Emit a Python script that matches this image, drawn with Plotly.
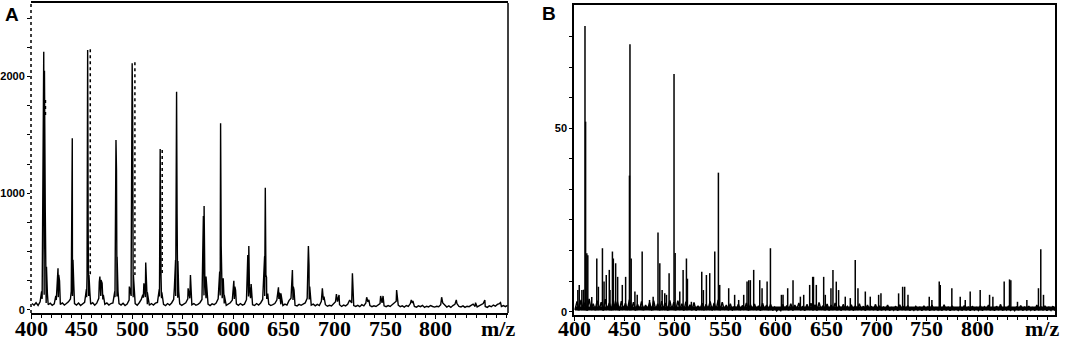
import plotly.graph_objects as go

W, H = 1065, 344

# ---------------- Panel A (profile spectrum) ----------------
a_base_start = 401
a_base_step = 2
a_baseline = [
    55, 40, 62, 38, 70, 95, 130, 60, 45, 58, 40, 52, 85, 110, 48, 60, 42, 55, 70, 95,
    120, 55, 42, 60, 38, 50, 65, 110, 120, 50, 62, 40, 58, 100, 120, 90, 48, 60, 42, 55,
    60, 110, 115, 55, 42, 58, 38, 50, 85, 120, 110, 55, 40, 62, 90, 105, 110, 50, 40, 55,
    42, 58, 65, 115, 100, 48, 38, 55, 42, 60, 90, 120, 105, 52, 40, 48, 62, 95, 100, 45,
    55, 40, 48, 62, 90, 125, 100, 50, 38, 52, 45, 60, 95, 125, 100, 55, 40, 50, 62, 85,
    95, 52, 40, 55, 42, 50, 88, 115, 100, 45, 38, 55, 42, 60, 90, 120, 95, 50, 38, 45,
    55, 85, 95, 48, 38, 50, 42, 80, 100, 85, 40, 35, 48, 40, 52, 60, 100, 90, 42, 50,
    35, 48, 38, 75, 85, 45, 32, 40, 35, 50, 70, 72, 45, 30, 42, 35, 48, 85, 60, 38,
    30, 40, 28, 45, 35, 60, 70, 38, 28, 36, 30, 42, 55, 60, 35, 28, 38, 30, 45, 60,
    75, 42, 28, 35, 25, 38, 30, 55, 60, 30, 24, 35, 28, 40, 22, 32, 26, 38, 30, 25,
    32, 28, 45, 60, 42, 25, 35, 22, 38, 48, 55, 30, 26, 35, 22, 32, 28, 40, 50, 30,
    26, 38, 45, 55, 30, 22, 35, 28, 42, 32, 48, 55, 30, 38, 28, 40,
]
a_peak_mz = [
    409.5, 410.5, 412.6, 413.3, 414.1, 415.3, 416.2,
    424.5, 426.2, 426.7, 427.4, 428.2,
    439.8, 440.8, 441.5, 442.3,
    454.8, 455.4, 456.0, 456.5, 457.3, 458.2,
    467.5, 468.1, 469.2, 470.3, 471.5,
    482.8, 484.0, 484.5, 485.1, 486.0,
    497.2, 499.0, 500.0, 500.5, 501.2,
    510.5, 511.6, 513.4, 514.0, 515.0,
    526.8, 527.7, 528.5, 529.3,
    541.7, 542.9, 543.9, 544.4, 545.2, 546.0,
    555.3, 557.6, 558.4,
    569.6, 570.4, 571.1, 571.8, 573.0, 574.0,
    586.5, 587.4, 588.0, 588.6, 590.0, 591.0,
    600.5, 601.5, 602.2,
    613.8, 614.3, 615.3, 615.9, 617.6, 618.5,
    630.2, 630.9, 631.6, 632.2, 632.8, 634.0,
    644.6, 645.5, 647.0,
    657.6, 658.4, 659.3, 660.0,
    673.5, 674.2, 674.8, 675.5,
    688.0, 689.6, 701.9, 704.5, 717.7, 718.3, 731.8, 734.0,
    745.6, 748.0, 761.4, 762.0, 775.9, 777.5, 805.9, 820.4, 839.4, 848.6, 864.1,
]
a_peak_int = [
    110, 160, 2214, 2050, 857, 371, 140,
    120, 330, 357, 300, 250,
    160, 1471, 430, 214,
    180, 300, 2229, 686, 300, 150,
    240, 286, 257, 229, 130,
    160, 1457, 1200, 457, 160,
    200, 314, 2114, 1650, 300,
    130, 229, 406, 271, 150,
    180, 1380, 300, 150,
    186, 428, 1871, 830, 420, 160,
    186, 300, 150,
    300, 805, 891, 290, 286, 130,
    330, 1600, 550, 371, 271, 130,
    251, 200, 171,
    300, 471, 548, 200, 223, 130,
    300, 457, 1048, 300, 280, 140,
    194, 150, 143,
    250, 343, 200, 171,
    400, 548, 380, 200,
    186, 114, 137, 129, 314, 120, 109, 86,
    120, 120, 171, 90, 86, 77, 109, 86, 63, 86, 63,
]
# dotted vertical traces beside some peaks
a_dot_mz = [414.3, 458.6, 502.7, 529.7]
a_dot_top = [1800, 2234, 2123, 1371]
a_dot_bottom = [1650, 300, 300, 300]

# ---------------- Panel B (centroid spectrum) ----------------
b_stick_mz = [
    403.8, 405.2, 407.8, 409.5, 410.9, 411.5, 412.7, 413.7, 417.6, 422.6, 424.2,
    428.2, 429.8, 432.0, 435.0, 435.7, 438.1, 439.0, 441.3, 443.3, 447.9, 451.2,
    455.0, 455.5, 456.7, 460.4, 462.7, 467.6, 474.9, 478.5, 483.3, 485.1, 487.4,
    490.0, 491.7, 494.3, 499.2, 500.3, 504.9, 508.2, 511.5, 512.5, 516.4, 526.7,
    528.3, 531.3, 534.6, 539.6, 543.2, 544.5, 553.4, 559.3, 563.3, 568.3, 571.6,
    573.3, 574.9, 578.2, 584.2, 586.5, 591.5, 594.8, 605.7, 607.3, 611.9, 617.2,
    624.5, 627.8, 633.7, 636.7, 637.5, 640.3, 647.6, 649.2, 654.8, 656.8, 660.1,
    662.4, 669.0, 674.0, 678.9, 681.6, 688.9, 693.8, 702.1, 704.4, 721.9, 725.9,
    727.9, 731.2, 752.3, 754.9, 762.2, 763.2, 774.7, 783.0, 788.0, 792.9, 802.8,
    812.1, 815.4, 826.6, 831.9, 833.2, 839.8, 849.1, 860.6, 862.9, 865.6,
]
b_stick_int = [
    5.9, 7.3, 5.9, 6.0, 77.9, 51.8, 15.9, 15.4, 4.0, 14.5, 6.8,
    17.3, 8.2, 10.0, 11.4, 5.9, 16.4, 14.5, 13.2, 9.5, 7.3, 9.5,
    37.1, 72.9, 14.5, 5.5, 4.6, 16.4, 3.2, 4.1, 21.6, 13.2, 5.9,
    5.0, 4.6, 10.5, 64.8, 16.0, 5.5, 11.4, 14.5, 9.0, 2.7, 10.9,
    5.9, 10.0, 10.5, 16.4, 37.9, 7.3, 6.4, 4.6, 3.2, 4.6, 8.2,
    8.6, 8.6, 11.4, 8.6, 6.4, 8.2, 17.3, 4.6, 4.6, 6.4, 8.6,
    4.1, 4.6, 7.3, 9.5, 9.5, 7.3, 9.5, 4.6, 6.4, 11.4, 8.2,
    5.9, 4.1, 3.7, 14.1, 6.4, 5.5, 4.1, 4.6, 5.0, 5.0, 6.8,
    6.8, 4.6, 4.1, 3.2, 8.2, 7.3, 6.4, 4.1, 3.2, 5.5, 5.9,
    4.6, 4.1, 8.2, 8.8, 8.6, 2.7, 3.2, 6.4, 17.0, 4.6,
]
b_noise_start = 401
b_noise_step = 2
b_noise = [
    0.5, 2.8, 0.4, 3.2, 0.6, 2.5, 0.3, 3.5, 0.5, 2.2, 0.4, 3.0, 0.6, 2.6, 0.3, 3.4, 0.5, 2.4, 0.4, 3.1, 0.5, 2.7, 0.3, 2.9, 0.6,
    2.3, 0.4, 3.3, 0.5, 2.6, 0.3, 2.0, 0.5, 2.8, 0.4, 1.8, 0.6, 2.5, 0.3, 3.0, 0.5, 2.2, 0.4, 2.9, 0.6, 2.4, 0.3, 3.1, 0.5, 2.6,
    0.4, 3.0, 0.5, 2.2, 0.3, 2.7, 0.6, 1.9, 0.4, 2.5, 0.3, 1.6, 0.5, 2.3, 0.4, 2.0, 0.6, 2.8, 0.3, 2.4, 0.5, 3.2, 0.4, 2.6, 0.5,
    1.8, 0.4, 2.2, 0.3, 1.5, 0.5, 2.0, 0.4, 1.7, 0.6, 2.4, 0.3, 1.9, 0.5, 2.1, 0.4, 1.6, 0.3, 2.3, 0.5, 1.8, 0.4, 2.0, 0.3, 1.2,
    0.2, 0.9, 0.3, 2.0, 0.5, 1.7, 0.4, 2.2, 0.3, 1.8, 0.6, 2.4, 0.4, 1.5, 0.3, 2.0, 0.5, 2.3, 0.4, 1.9, 0.3, 2.5, 0.5, 1.7, 0.4,
    2.1, 0.3, 1.8, 0.5, 2.4, 0.4, 1.6, 0.3, 2.0, 0.5, 1.4, 0.4, 1.9, 0.3, 1.6, 0.5, 2.2, 0.4, 1.5, 0.3, 1.8, 0.5, 1.3, 0.4, 2.0,
    0.3, 1.6, 0.4, 1.2, 0.5, 1.8, 0.3, 1.1, 0.4, 1.5, 0.3, 1.9, 0.5, 1.3, 0.4, 1.7, 0.3, 1.0, 0.4, 1.4, 0.5, 1.2, 0.3, 1.6, 0.4,
    1.3, 0.3, 1.8, 0.4, 1.1, 0.5, 1.5, 0.3, 1.9, 0.4, 1.2, 0.3, 1.6, 0.5, 1.0, 0.4, 1.4, 0.3, 1.7, 0.4, 1.2, 0.3, 1.5, 0.5, 1.1,
    0.4, 1.6, 0.3, 1.3, 0.5, 1.8, 0.4, 1.1, 0.3, 1.5, 0.4, 2.0, 0.3, 1.2, 0.5, 1.6, 0.4, 1.0, 0.3, 1.4, 0.4, 1.7, 0.3, 1.2, 0.5,
    1.5, 0.4, 1.1, 0.3, 1.8, 0.4, 1.3, 0.5, 1.6, 0.3, 1.2, 0.4, 1.5, 0.3,
]
b_floor_level = 0.9
b_stick_floor = 0.4

x_tick_vals = [400, 450, 500, 550, 600, 650, 700, 750, 800]
x_tick_text = ["400", "450", "500", "550", "600", "650", "700", "750", "800"]
a_y_ticks = [0, 250, 500, 750, 1000, 1250, 1500, 1750, 2000, 2250, 2500]
a_y_labels = ["0", "", "", "", "1000", "", "", "", "2000", "", ""]
b_y_ticks = [0, 8.33, 16.67, 25, 33.33, 41.67, 50, 58.33, 66.67, 75]
b_y_labels = ["0", "", "", "", "", "", "50", "", "", ""]

# ---------------- build traces ----------------
pts = [(a_base_start + a_base_step * i, v) for i, v in enumerate(a_baseline)]
pts += list(zip(a_peak_mz, a_peak_int))
pts.sort(key=lambda p: p[0])
ax = [p[0] for p in pts]
ay = [p[1] for p in pts]

fig = go.Figure()
fig.add_trace(go.Scatter(x=ax, y=ay, mode="lines", line=dict(color="black", width=1.4),
                         xaxis="x", yaxis="y", hoverinfo="skip"))
dx, dy = [], []
for m, t, b in zip(a_dot_mz, a_dot_top, a_dot_bottom):
    dx += [m, m, None]
    dy += [t, b, None]
fig.add_trace(go.Scatter(x=dx, y=dy, mode="lines", line=dict(color="black", width=1.5, dash="dot"),
                         xaxis="x", yaxis="y", hoverinfo="skip"))

nx = [b_noise_start + b_noise_step * i for i in range(len(b_noise))]
fig.add_trace(go.Scatter(x=[nx[0], nx[-1]], y=[b_floor_level, b_floor_level], mode="lines",
                         line=dict(color="black", width=4), xaxis="x2", yaxis="y2", hoverinfo="skip"))
fig.add_trace(go.Scatter(x=nx, y=b_noise, mode="lines", line=dict(color="black", width=1.5),
                         xaxis="x2", yaxis="y2", hoverinfo="skip"))
sx, sy = [], []
for m, h in zip(b_stick_mz, b_stick_int):
    sx += [m, m, None]
    sy += [b_stick_floor, h, None]
fig.add_trace(go.Scatter(x=sx, y=sy, mode="lines", line=dict(color="black", width=1.5),
                         xaxis="x2", yaxis="y2", hoverinfo="skip"))

xfont = dict(family="Liberation Serif", size=22, color="black", weight="bold")
yfont = dict(family="Liberation Sans", size=11, color="black", weight="bold")

common_x = dict(tickvals=x_tick_vals, ticks="outside", ticklen=4, tickwidth=1, tickcolor="black",
                minor=dict(ticks="outside", dtick=10, tick0=400, ticklen=3, tickcolor="black"),
                showline=True, mirror=True, linecolor="black", linewidth=1.5, automargin=False,
                showticklabels=False, showgrid=False, zeroline=False)

annotations = [
    dict(text="A", x=3 / W, y=1 - 2 / H, xref="paper", yref="paper", xanchor="left", yanchor="top",
         showarrow=False, font=dict(family="Liberation Sans", size=19, color="black", weight="bold")),
    dict(text="B", x=540 / W, y=1 - 1 / H, xref="paper", yref="paper", xanchor="left", yanchor="top",
         showarrow=False, font=dict(family="Liberation Sans", size=19, color="black", weight="bold")),
    dict(text="m/z", x=498 / W, y=1 - 328.5 / H, xref="paper", yref="paper", xanchor="center",
         yanchor="middle", showarrow=False, font=xfont),
    dict(text="m/z", x=1042 / W, y=1 - 328.5 / H, xref="paper", yref="paper", xanchor="center",
         yanchor="middle", showarrow=False, font=xfont),
]
for xr in ("x", "x2"):
    for v, t in zip(x_tick_vals, x_tick_text):
        annotations.append(dict(text=t, x=v, y=1 - 328.5 / H, xref=xr, yref="paper",
                                xanchor="center", yanchor="middle", showarrow=False, font=xfont))

fig.update_layout(
    width=W, height=H, margin=dict(l=0, r=0, t=0, b=0),
    paper_bgcolor="white", plot_bgcolor="white", showlegend=False,
    xaxis=dict(domain=[31 / W, 508 / W], range=[400, 871.5], anchor="y", **common_x),
    yaxis=dict(domain=[1 - 313 / H, 1 - 3 / H], range=[-26, 2631], anchor="x", automargin=False,
               tickvals=a_y_ticks, ticktext=a_y_labels, ticks="outside", ticklen=3,
               tickcolor="black", showline=False, showgrid=False, zeroline=False, tickfont=yfont),
    xaxis2=dict(domain=[574 / W, 1055 / W], range=[400, 877], anchor="y2", **common_x),
    yaxis2=dict(domain=[1 - 315 / H, 1 - 5 / H], range=[-0.9, 83.6], anchor="x2", automargin=False,
                tickvals=b_y_ticks, ticktext=b_y_labels, ticks="outside", ticklen=3,
                tickcolor="black", showline=True, mirror=True, linecolor="black", linewidth=1.5,
                showgrid=False, zeroline=False, tickfont=yfont),
    shapes=[
        dict(type="line", xref="x domain", yref="y domain", x0=0, x1=0, y0=0, y1=1,
             line=dict(color="black", width=1.5, dash="dot")),
        dict(type="line", xref="x domain", yref="y domain", x0=1, x1=1, y0=0, y1=1,
             line=dict(color="black", width=1.5)),
    ],
    annotations=annotations,
)

fig.write_html("out.html", config={"displayModeBar": False},
               post_script="document.body.style.margin='0px';document.body.style.overflow='hidden';")
